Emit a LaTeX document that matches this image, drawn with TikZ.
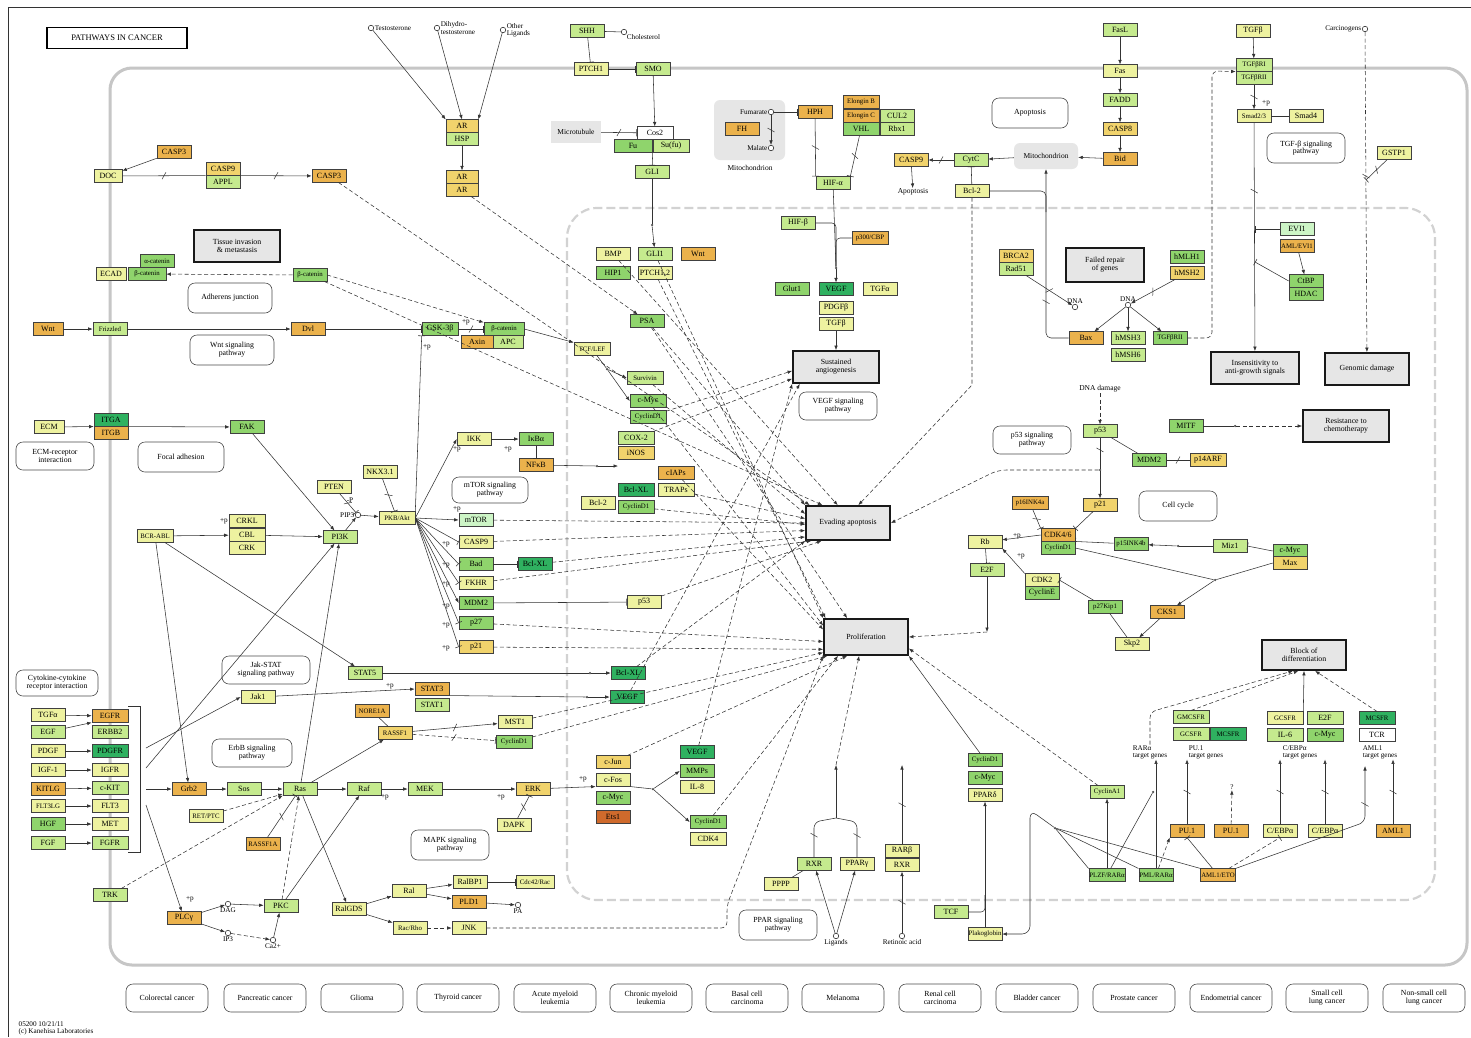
\documentclass[tikz,border=0pt]{standalone}
\usepackage{fontspec}
\setmainfont{Liberation Serif}
\usetikzlibrary{shapes,arrows,arrows.meta,decorations.markings,positioning}
\definecolor{gcy}{HTML}{EEF2A0}
\definecolor{gco}{HTML}{EBB24C}
\definecolor{gcyo}{HTML}{F1D36C}
\definecolor{gclg}{HTML}{C5EA8E}
\definecolor{gcg}{HTML}{8FD46C}
\definecolor{gcdg}{HTML}{2FB160}
\definecolor{gcbr}{HTML}{CF6A2C}
\definecolor{gcmint}{HTML}{CDF5C6}
\definecolor{cpt}{HTML}{E6E6E6}
\tikzstyle{gene} = [rectangle, draw=black!75, line width=0.6pt, minimum width=34pt, minimum height=12.5pt, inner sep=0.5pt, font=\fontsize{8}{8}\selectfont]
\tikzstyle{gy} = [gene, fill=gcy]
\tikzstyle{go} = [gene, fill=gco]
\tikzstyle{gyo} = [gene, fill=gcyo]
\tikzstyle{glg} = [gene, fill=gclg]
\tikzstyle{gg} = [gene, fill=gcg]
\tikzstyle{gdg} = [gene, fill=gcdg]
\tikzstyle{gbr} = [gene, fill=gcbr]
\tikzstyle{gmint} = [gene, fill=gcmint]
\tikzstyle{gw} = [gene, fill=white]
\tikzstyle{sm} = [font=\fontsize{6.8}{7}\selectfont]
\tikzstyle{pathbox} = [rectangle, rounded corners=7pt, draw=black!70, line width=0.6pt, align=center, minimum width=80pt, minimum height=28pt, inner sep=1pt, font=\fontsize{7.8}{7.8}\selectfont]
\tikzstyle{outcome} = [rectangle, draw=black!90, line width=1.8pt, fill=cpt, align=center, minimum width=84pt, minimum height=32pt, inner sep=1pt, font=\fontsize{7.8}{7.8}\selectfont]
\tikzstyle{cpd} = [circle, draw=black!80, fill=white, line width=0.6pt, inner sep=0pt, minimum size=5.5pt]
\tikzstyle{lbl} = [inner sep=0.5pt, align=center, font=\fontsize{7.5}{7.5}\selectfont]
\tikzstyle{tiny} = [inner sep=0.5pt, font=\fontsize{7.2}{7.2}\selectfont]
\tikzstyle{dot} = [circle, fill=black!70, inner sep=0pt, minimum size=2.5pt]
\tikzstyle{arrow} = [->, >={Latex[length=4.5pt,width=3.5pt]}, line width=0.55pt, black!80]
\tikzstyle{darrow} = [arrow, dash pattern=on 4pt off 2.5pt]
\tikzstyle{inhib} = [-{Bar[width=7pt]}, line width=0.55pt, black!80]
\tikzstyle{dinhib} = [inhib, dash pattern=on 4pt off 2.5pt]
\tikzstyle{link} = [-, line width=0.55pt, black!80]
\tikzstyle{dlink} = [link, dash pattern=on 4pt off 2.5pt]
\tikzset{brk/.style={postaction={decorate,decoration={markings,mark=at position #1 with {\draw[solid,-,black!80,line width=0.5pt] (-2pt,-3.5pt) -- (2pt,3.5pt);}}}}, brk/.default=0.5}

\begin{document}
\begin{tikzpicture}[x=1pt, y=-1pt]
\useasboundingbox (0,0) rectangle (1471,1037);
\fill[white] (0,0) rectangle (1471,1037);
\draw[black!80, line width=0.8pt] (1471,7) -- (8,7) -- (8,1037);
\draw[gray!45, line width=3pt, rounded corners=22pt] (110,68) rectangle (1467,965);
\draw[gray!35, line width=2.2pt, dash pattern=on 9pt off 4pt, rounded corners=30pt] (567,208) rectangle (1435,900);
\fill[cpt, rounded corners=6pt] (714,100) rectangle (785,160);

\node[rectangle, draw, line width=1.2pt, minimum width=140pt, minimum height=21pt, font=\fontsize{8.5}{9}\selectfont] (title) at (117,38) {PATHWAYS IN CANCER};

% left side
\node[go] (casp3a) at (174,152) {CASP3};
\node[gy, minimum width=28pt] (doc) at (108,176) {DOC};
\node[gyo] (casp9a) at (223,169) {CASP9};
\node[glg] (appl) at (223,182) {APPL};
\node[go] (casp3b) at (329,176) {CASP3};
\node[outcome, minimum width=86pt, minimum height=32pt] (tissue) at (237,246) {Tissue invasion\\\& metastasis};
\node[gg, sm] (acat) at (157,261) {α-catenin};
\node[gy, minimum width=30pt] (ecad) at (111,274) {ECAD};
\node[gg, sm, minimum width=38pt] (bcatb) at (147,274) {β-catenin};
\node[gg, sm] (bcata) at (310,275) {β-catenin};
\node[pathbox, minimum width=84pt, minimum height=30pt] (adh) at (230,298) {Adherens junction};
\node[go, minimum width=30pt] (wnt) at (48,329) {Wnt};
\node[glg, sm] (frz) at (110,329) {Frizzled};
\node[go] (dvl) at (308,329) {Dvl};
\node[pathbox, minimum width=84pt, minimum height=30pt] (wntp) at (232,350) {Wnt signaling\\pathway};
\node[gg, minimum width=36pt] (gsk) at (440,329) {GSK-3β};
\node[gg, sm, minimum width=40pt] (bcatc) at (504,329) {β-catenin};
\node[go, minimum width=32pt] (axin) at (477,342) {Axin};
\node[glg, minimum width=30pt] (apc) at (508,342) {APC};
\node[gy, sm, minimum width=36pt] (tcflef) at (592,349) {TCF/LEF};
\node[gy, minimum width=30pt] (ecm) at (49,427) {ECM};
\node[gdg] (itga) at (111,420) {ITGA};
\node[go] (itgb) at (111,433) {ITGB};
\node[gg] (fak) at (247,427) {FAK};
\node[pathbox, minimum width=78pt] (ecmp) at (55,456) {ECM-receptor\\interaction};
\node[pathbox, minimum width=86pt, minimum height=30pt] (focal) at (181,457) {Focal adhesion};
\node[gy] (pten) at (334,487) {PTEN};
\node[gy] (nkx) at (380,472) {NKX3.1};
\node[cpd, label={[tiny]left:PIP3}] (pip3) at (358,515) {};
\node[gy, sm, minimum width=36pt] (akt) at (397,518) {PKB/Akt};
\node[glg] (pi3k) at (340,537) {PI3K};
\node[gy, minimum width=36pt] (crkl) at (247,521) {CRKL};
\node[gy, minimum width=36pt] (cbl) at (247,535) {CBL};
\node[gy, minimum width=36pt] (crk) at (247,548) {CRK};
\node[gy, sm, minimum width=36pt] (bcr) at (155,536) {BCR-ABL};
\node[pathbox, minimum width=76pt, minimum height=26pt] (mtorp) at (490,490) {mTOR signaling\\pathway};
\node[gy] (ikk) at (474,439) {IKK};
\node[gg] (ikba) at (536,439) {IκBα};
\node[go] (nfkb) at (536,465) {NFκB};
\node[glg, sm, minimum width=36pt] (survivin) at (645,378) {Survivin};
\node[gg, minimum width=36pt] (cmyca) at (648,401) {c-Myc};
\node[gg, sm, minimum width=36pt] (cycd1a) at (648,417) {CyclinD1};
\node[glg, minimum width=36pt] (cox2) at (636,438) {COX-2};
\node[gyo, minimum width=36pt] (inos) at (636,453) {iNOS};
\node[go, minimum width=36pt] (ciaps) at (676,473) {cIAPs};
\node[gy, minimum width=36pt] (traps) at (676,490) {TRAPs};
\node[gdg, minimum width=36pt] (bclxla) at (636,490) {Bcl-XL};
\node[gy] (bcl2b) at (598,503) {Bcl-2};
\node[gg, sm, minimum width=36pt] (cycd1c) at (636,507) {CyclinD1};
\node[gmint] (mtor) at (476,520) {mTOR};
\node[gy] (casp9b) at (476,542) {CASP9};
\node[gg] (bad) at (476,564) {Bad};
\node[gdg] (bclxlb) at (535,564) {Bcl-XL};
\node[gy] (fkhr) at (476,583) {FKHR};
\node[gg] (mdm2a) at (476,603) {MDM2};
\node[gy] (p53a) at (644,602) {p53};
\node[gg] (p27) at (476,623) {p27};
\node[gyo] (p21a) at (476,647) {p21};
\node[glg] (stat5) at (365,673) {STAT5};
\node[gdg] (bclxlc) at (628,673) {Bcl-XL};
\node[pathbox, minimum width=88pt] (jakp) at (266,670) {Jak-STAT\\signaling pathway};
\node[go] (stat3) at (432,689) {STAT3};
\node[glg] (stat1) at (432,705) {STAT1};
\node[gdg] (vegfb) at (627,697) {VEGF};
\node[gy] (jak1) at (258,697) {Jak1};
\node[go, sm] (nore1a) at (372,711) {NORE1A};
\node[gyo, sm] (rassf1) at (395,733) {RASSF1};
\node[gy] (mst1) at (515,722) {MST1};
\node[gg, sm, minimum width=36pt] (cycd1b) at (514,742) {CyclinD1};
\node[pathbox] (erbbp) at (252,753) {ErbB signaling\\pathway};
\node[pathbox, minimum width=82pt, minimum height=26pt] (cytop) at (57,683) {Cytokine-cytokine\\receptor interaction};
\node[gy] (tgfa1) at (48,715) {TGFα};
\node[glg] (egf) at (48,732) {EGF};
\node[gy] (pdgf) at (48,751) {PDGF};
\node[gy] (igf1) at (48,770) {IGF-1};
\node[go] (kitlg) at (48,789) {KITLG};
\node[gy, sm] (flt3lg) at (48,806) {FLT3LG};
\node[gg] (hgf) at (48,824) {HGF};
\node[glg] (fgf) at (48,843) {FGF};
\node[go, minimum width=36pt] (egfr) at (110,716) {EGFR};
\node[glg, minimum width=36pt] (erbb2) at (110,732) {ERBB2};
\node[gdg, minimum width=36pt] (pdgfr) at (110,751) {PDGFR};
\node[gy, minimum width=36pt] (igfr) at (110,770) {IGFR};
\node[glg, minimum width=36pt] (ckit) at (110,788) {c-KIT};
\node[gy, minimum width=36pt] (flt3) at (110,806) {FLT3};
\node[gy, minimum width=36pt] (met) at (110,824) {MET};
\node[glg, minimum width=36pt] (fgfr) at (110,843) {FGFR};
\draw[link] (128,706) -| (140,852) -- (128,852);
\node[go] (grb2) at (189,789) {Grb2};
\node[glg] (sos) at (244,789) {Sos};
\node[glg] (ras) at (300,789) {Ras};
\node[gy, sm] (retptc) at (206,816) {RET/PTC};
\node[go, sm] (rassf1a) at (263,844) {RASSF1A};
\node[glg] (raf) at (364,789) {Raf};
\node[glg] (mek) at (425,789) {MEK};
\node[gyo] (erk) at (533,789) {ERK};
\node[gy] (dapk) at (514,825) {DAPK};
\node[gyo] (cjun) at (613,762) {c-Jun};
\node[gy] (cfos) at (613,780) {c-Fos};
\node[gg] (cmycc) at (613,798) {c-Myc};
\node[gbr] (ets1) at (613,817) {Ets1};
\node[gdg] (vegfc) at (697,752) {VEGF};
\node[gg] (mmps) at (697,771) {MMPs};
\node[gy] (il8) at (697,787) {IL-8};
\node[gg, sm, minimum width=36pt] (cycd1d) at (708,822) {CyclinD1};
\node[gy, minimum width=36pt] (cdk4) at (708,839) {CDK4};
\node[pathbox, minimum width=78pt, minimum height=30pt] (mapkp) at (450,845) {MAPK signaling\\pathway};
\node[glg] (trk) at (110,895) {TRK};
\node[go] (plcg) at (184,918) {PLCγ};
\node[cpd, label={[tiny]below:DAG}] (dag) at (228,904) {};
\node[cpd, label={[tiny]below:IP3}] (ip3) at (228,933) {};
\node[glg] (pkc) at (281,906) {PKC};
\node[cpd, label={[tiny]below:Ca2+}] (ca2) at (273,940) {};
\node[gy] (ralgds) at (349,909) {RalGDS};
\node[gy] (ral) at (409,891) {Ral};
\node[gy] (ralbp1) at (470,882) {RalBP1};
\node[gy, sm, minimum width=38pt] (cdc42) at (535,882) {Cdc42/Rac};
\node[go] (pld1) at (469,902) {PLD1};
\node[cpd, label={[tiny]below:PA}] (pa) at (518,905) {};
\node[gy, sm] (racrho) at (410,928) {Rac/Rho};
\node[gy] (jnk) at (469,928) {JNK};

% top middle
\node[cpd, label={[tiny]right:Testosterone}] (testo) at (371,28) {};
\node[cpd, label={[tiny, align=left]right:Dihydro-\\testosterone}] (dht) at (437,28) {};
\node[cpd, label={[tiny, align=left]right:Other\\Ligands}] (othlig) at (503,30) {};
\node[gyo, minimum width=32pt] (ar1) at (462,126) {AR};
\node[glg, minimum width=32pt] (hsp) at (462,139) {HSP};
\node[gyo, minimum width=32pt] (ar2) at (462,177) {AR};
\node[gyo, minimum width=32pt] (ar3) at (462,190) {AR};
\node[glg] (shh) at (587,31) {SHH};
\node[cpd, label={[tiny]below right:Cholesterol}] (chol) at (624,32) {};
\node[gy] (ptch1) at (591,69) {PTCH1};
\node[glg] (smo) at (653,69) {SMO};
\node[fill=cpt, minimum width=50pt, minimum height=22pt, font=\fontsize{7.5}{7.5}\selectfont] (micro) at (576,132) {Microtubule};
\node[gw, minimum width=36pt] (cos2) at (655,133) {Cos2};
\node[gg, minimum width=38pt] (fu) at (633,146) {Fu};
\node[glg, minimum width=36pt] (sufu) at (671,146) {Su(fu)};
\node[glg] (gli) at (652,172) {GLI};
\node[gy] (bmp) at (613,254) {BMP};
\node[glg] (gli1) at (655,254) {GLI1};
\node[go] (wnt2) at (698,254) {Wnt};
\node[gg] (hip1) at (613,273) {HIP1};
\node[gy] (ptch12) at (655,273) {PTCH1,2};
\node[gg] (psa) at (647,321) {PSA};
\node[cpd, label={[tiny]left:Fumarate}] (fum) at (771,112) {};
\node[go] (fh) at (742,129) {FH};
\node[cpd, label={[tiny]left:Malate}] (mal) at (771,148) {};
\node[lbl] (mitolbl) at (750,168) {Mitochondrion};
\node[go] (hph) at (815,112) {HPH};
\node[go, sm, minimum width=36pt] (elonb) at (861,102) {Elongin B};
\node[go, sm, minimum width=36pt] (elonc) at (861,116) {Elongin C};
\node[glg] (cul2) at (897,116) {CUL2};
\node[gg, minimum width=36pt] (vhl) at (861,129) {VHL};
\node[glg] (rbx1) at (897,129) {Rbx1};
\node[glg] (hifa) at (833,183) {HIF-α};
\node[glg] (hifb) at (798,223) {HIF-β};
\node[go, sm, minimum width=36pt] (p300) at (870,238) {p300/CBP};
\node[gg] (glut1) at (792,289) {Glut1};
\node[gdg] (vegfa) at (836,289) {VEGF};
\node[gy] (tgfa2) at (880,289) {TGFα};
\node[gy] (pdgfb) at (836,308) {PDGFβ};
\node[gy] (tgfb1) at (836,324) {TGFβ};
\node[outcome, minimum width=86pt] (angio) at (836,367) {Sustained\\angiogenesis};
\node[pathbox, minimum width=78pt] (vegfp) at (838,406) {VEGF signaling\\pathway};
\node[pathbox, minimum width=76pt, minimum height=30pt] (apop) at (1030,113) {Apoptosis};
\node[gyo] (casp9c) at (911,160) {CASP9};
\node[lbl] (apolbl) at (913,192) {Apoptosis};
\node[glg] (cytc) at (971,160) {CytC};
\node[gy] (bcl2a) at (972,191) {Bcl-2};
\node[fill=cpt, rounded corners=6pt, minimum width=64pt, minimum height=26pt, font=\fontsize{7.5}{7.5}\selectfont] (mito2) at (1046,156) {Mitochondrion};
\node[glg] (fasl) at (1120,30) {FasL};
\node[gy] (fas) at (1120,71) {Fas};
\node[glg] (fadd) at (1120,100) {FADD};
\node[gyo] (casp8) at (1120,129) {CASP8};
\node[go] (bid) at (1120,159) {Bid};
\node[gy] (tgfb2) at (1253,31) {TGFβ};
\node[glg, sm, minimum width=36pt] (tgfbr1) at (1254,65) {TGFβRI};
\node[glg, sm, minimum width=36pt] (tgfbr2) at (1254,78) {TGFβRII};
\node[gy, sm] (smad23) at (1254,116) {Smad2/3};
\node[gy] (smad4) at (1306,116) {Smad4};
\node[pathbox, minimum width=78pt, minimum height=30pt] (tgfbp) at (1306,148) {TGF-β signaling\\pathway};
\node[cpd, label={[tiny]left:Carcinogens}] (carc) at (1365,29) {};
\node[gy] (gstp1) at (1394,153) {GSTP1};
\node[gmint] (evi1) at (1297,229) {EVI1};
\node[go, sm] (amlevi1) at (1297,246) {AML/EVI1};
\node[gg] (ctbp) at (1306,281) {CtBP};
\node[gg] (hdac) at (1306,294) {HDAC};
\node[gyo] (brca2) at (1016,256) {BRCA2};
\node[glg] (rad51) at (1016,269) {Rad51};
\node[outcome, minimum width=78pt, minimum height=34pt] (failed) at (1105,265) {Failed repair\\of genes};
\node[gg] (hmlh1) at (1187,257) {hMLH1};
\node[gyo] (hmsh2) at (1187,273) {hMSH2};
\node[cpd, label={[tiny]above:DNA}] (dna1) at (1075,307) {};
\node[cpd, label={[tiny]above:DNA}] (dna2) at (1128,305) {};
\node[go] (bax) at (1086,338) {Bax};
\node[glg] (hmsh3) at (1128,338) {hMSH3};
\node[gg, sm] (tgfbr2b) at (1170,338) {TGFβRII};
\node[glg] (hmsh6) at (1128,355) {hMSH6};
\node[outcome, minimum width=88pt] (insens) at (1255,368) {Insensitivity to\\anti-growth signals};
\node[outcome] (genomic) at (1367,369) {Genomic damage};
\node[lbl] (dnadmg) at (1100,389) {DNA damage};
\node[glg] (p53b) at (1100,431) {p53};
\node[gg] (mitf) at (1186,426) {MITF};
\node[outcome, minimum width=86pt] (resist) at (1346,426) {Resistance to\\chemotherapy};
\node[gg] (mdm2b) at (1149,460) {MDM2};
\node[gyo, minimum width=36pt] (p14arf) at (1208,460) {p14ARF};
\node[pathbox, minimum width=78pt] (p53p) at (1032,440) {p53 signaling\\pathway};
\node[pathbox, minimum width=78pt, minimum height=30pt] (cellc) at (1178,506) {Cell cycle};
\node[gyo] (p21b) at (1100,505) {p21};
\node[go, sm, minimum width=36pt] (p16) at (1030,503) {p16INK4a};
\node[go] (cdk46) at (1058,535) {CDK4/6};
\node[gg, sm] (cycd1e) at (1058,548) {CyclinD1};
\node[gy] (rb) at (985,542) {Rb};
\node[glg] (e2fa) at (987,570) {E2F};
\node[gy] (cdk2) at (1042,580) {CDK2};
\node[gg] (cyce) at (1042,593) {CyclinE};
\node[gg, sm] (p15) at (1131,544) {p15INK4b};
\node[glg] (miz1) at (1230,546) {Miz1};
\node[gg] (cmycb) at (1290,551) {c-Myc};
\node[gyo] (maxn) at (1290,563) {Max};
\node[gg, sm] (p27kip) at (1105,607) {p27Kip1};
\node[go] (cks1) at (1167,612) {CKS1};
\node[gy] (skp2) at (1132,644) {Skp2};
\node[outcome, minimum height=34pt] (ea) at (848,523) {Evading apoptosis};
\node[outcome, minimum height=36pt] (pr) at (866,637) {Proliferation};
\node[outcome, minimum height=30pt] (block) at (1304,655) {Block of\\differentiation};
\node[glg, sm, minimum width=36pt] (gmcsfr) at (1191,717) {GMCSFR};
\node[glg, sm, minimum width=36pt] (gcsfr1) at (1191,734) {GCSFR};
\node[gdg, sm, minimum width=36pt] (mcsfr1) at (1228,734) {MCSFR};
\node[gy, sm, minimum width=36pt] (gcsfr2) at (1285,718) {GCSFR};
\node[glg, minimum width=36pt] (e2fb) at (1325,718) {E2F};
\node[glg, minimum width=36pt] (il6) at (1285,735) {IL-6};
\node[gg, minimum width=36pt] (cmycd) at (1325,735) {c-Myc};
\node[gdg, sm, minimum width=36pt] (mcsfr2) at (1377,718) {MCSFR};
\node[gw, minimum width=36pt] (tcr) at (1377,735) {TCR};
\node[tiny, align=left] (raratg) at (1150,752) {RARα\\target genes};
\node[tiny, align=left] (pu1tg) at (1206,752) {PU.1\\target genes};
\node[tiny, align=left] (cebptg) at (1300,752) {C/EBPα\\target genes};
\node[tiny, align=left] (aml1tg) at (1380,752) {AML1\\target genes};
\node[go] (pu1a) at (1187,831) {PU.1};
\node[go] (pu1b) at (1231,831) {PU.1};
\node[tiny] (qm) at (1232,787) {?};
\node[gy] (cebpa1) at (1280,831) {C/EBPα};
\node[gy] (cebpa2) at (1325,831) {C/EBPα};
\node[go] (aml1) at (1393,831) {AML1};
\node[gg, sm] (plzf) at (1107,875) {PLZF/RARα};
\node[gg, sm] (pmlrara) at (1156,875) {PML/RARα};
\node[go, sm] (aml1eto) at (1218,875) {AML1/ETO};
\node[glg, sm] (cyca1) at (1107,792) {CyclinA1};
\node[gg, sm] (cycd1f) at (985,760) {CyclinD1};
\node[gg] (cmyce) at (985,778) {c-Myc};
\node[gy] (ppard) at (985,795) {PPARδ};
\node[glg] (tcf2) at (951,912) {TCF};
\node[gy, sm] (plakog) at (985,934) {Plakoglobin};
\node[glg] (rxr1) at (814,864) {RXR};
\node[gy] (pparg) at (857,864) {PPARγ};
\node[gy] (pppp) at (781,884) {PPPP};
\node[gy] (rarb) at (902,851) {RARβ};
\node[gy] (rxr2) at (902,865) {RXR};
\node[cpd, label={[tiny]below:Ligands}] (ligands) at (836,936) {};
\node[cpd, label={[tiny]below:Retinoic acid}] (retacid) at (902,936) {};
\node[pathbox, minimum width=78pt, minimum height=30pt] (pparp) at (778,925) {PPAR signaling\\pathway};

% small +p labels
\foreach \x/\y/\t [count=\i] in {466/322/+p, 427/347/+p, 224/521/+p, 350/500/-P, 457/509/+p, 457/449/+p, 508/449/+p, 446/544/+p, 446/565/+p, 446/584/+p, 446/606/+p, 446/625/+p, 446/648/+p, 390/686/+p, 385/797/+p, 501/797/+p, 583/779/+p, 190/899/+p, 1017/536/+p, 1021/556/+p, 1266/103/+p}
  \node[tiny] (plus\i) at (\x,\y) {\t};

% connectors, left part
\draw[arrow] (casp3a) -- (doc);
\draw[link, brk] (doc) -- (casp9a.south west);
\draw[arrow, brk] (casp9a.south east) -- (casp3b);
\draw[darrow] (bcata) -- (bcatb);
\draw[arrow] (wnt) -- (frz);
\draw[arrow] (frz) -- (dvl);
\draw[inhib] (dvl) -- (gsk);
\draw[inhib, brk] (gsk) -- (bcatc);
\draw[arrow] (bcatc.east) -- (tcflef.north west);
\draw[darrow] (bcata.east) -- (bcatc.north west);
\node[dot] (dtcf) at (607,369) {};
\draw[link] (tcflef) -- (dtcf);
\draw[arrow] (dtcf) -- (survivin.west);
\draw[arrow] (dtcf) -- (cmyca.west);
\draw[arrow] (ecm) -- (itga.south west);
\draw[arrow] (itga.south east) -- (fak);
\draw[arrow] (fak) -- (pi3k);
\draw[arrow] (bcr) -- (cbl);
\draw[arrow] (cbl) -- (pi3k);
\draw[arrow] (bcr) -- (stat5);
\draw[arrow] (bcr) -- (grb2);
\draw[arrow] (pi3k) -- (pip3);
\draw[arrow] (pip3) -- (akt);
\draw[inhib, brk] (pten) -- (pip3);
\draw[inhib, brk] (nkx) -- (akt);
\draw[inhib] (akt.north east) -- (gsk.south west);
\foreach \t in {ikk, mtor, mdm2a} \draw[arrow] (akt.east) -- (\t.west);
\foreach \t in {casp9b, bad, fkhr, p27, p21a} \draw[inhib] (akt.east) -- (\t.west);
\draw[arrow] (ikk) -- (ikba);
\draw[inhib] (ikba) -- (nfkb);
\node[dot] (dnf) at (597,466) {};
\coordinate (nfend) at (618,466);
\draw[link] (nfkb) -- (dnf);
\draw[arrow] (dnf) -- (nfend);
\draw[inhib] (bad) -- (bclxlb);
\draw[inhib] (mdm2a) -- (p53a);
\node[dot] (dst5) at (590,673) {};
\draw[link] (stat5) -- (dst5);
\draw[arrow] (dst5) -- (bclxlc);
\draw[arrow] (jak1) -- (stat3.west);
\node[dot] (dst3) at (587,697) {};
\draw[link] (stat3.south east) -- (dst3);
\draw[arrow] (dst3) -- (vegfb);
\draw[link] (nore1a) -- (rassf1);
\draw[arrow, brk] (rassf1) -- (mst1);
\draw[dinhib, brk] (rassf1) -- (cycd1b);
\foreach \a/\b in {tgfa1/egfr, pdgf/pdgfr, igf1/igfr, kitlg/ckit, flt3lg/flt3, hgf/met, fgf/fgfr} \draw[arrow] (\a) -- (\b);
\draw[arrow] (egf) -- (egfr.south west);
\coordinate (rtkj) at (146,789);
\coordinate (rtka) at (146,748);
\coordinate (rtkb) at (146,768);
\coordinate (rtkc) at (146,805);
\draw[arrow] (rtkj) -- (grb2);
\draw[arrow] (rtka) -- (jak1.west);
\draw[arrow] (rtkb) -- (pi3k);
\draw[arrow] (rtkc) -- (plcg);
\draw[arrow] (grb2) -- (sos);
\draw[arrow] (sos) -- (ras);
\draw[darrow] (retptc) -- (ras);
\draw[darrow] (trk) -- (ras.south west);
\draw[inhib, brk] (rassf1a) -- (ras);
\draw[arrow] (ras) -- (pi3k);
\draw[arrow] (ras) -- (raf);
\draw[arrow] (ras) -- (ralgds);
\draw[arrow] (ras) -- (rassf1);
\draw[arrow] (raf) -- (mek);
\draw[arrow] (mek) -- (erk);
\draw[inhib, brk] (dapk) -- (erk);
\draw[arrow] (erk) -- (cfos.south west);
\node[dot] (dap1) at (653,789) {};
\draw[link] (cfos.south east) -- (dap1);
\draw[arrow] (dap1) -- (mmps.west);
\draw[arrow] (dap1) -- (cycd1d.west);
\draw[arrow] (pkc) -- (raf);
\draw[darrow] (pkc) -- (ras);
\draw[arrow] (plcg) -- (dag);
\draw[arrow] (dag) -- (pkc);
\draw[arrow] (plcg) -- (ip3);
\draw[darrow] (ip3) -- (ca2);
\draw[arrow] (ca2) -- (pkc);
\draw[arrow] (ralgds) -- (ral);
\draw[arrow] (ral) -- (ralbp1);
\draw[arrow] (ral) -- (pld1);
\draw[inhib] (ralbp1) -- (cdc42);
\draw[arrow] (pld1) -- (pa);
\draw[arrow] (ralgds) -- (racrho);
\draw[darrow] (racrho) -- (jnk);
\draw[darrow, rounded corners=6pt] (jnk) -- (727,928) -- (727,905) -- (pr.south west);

% connectors, top middle
\draw[arrow] (testo) -- (ar1.north west);
\draw[arrow] (dht) -- (ar1.north);
\draw[arrow] (othlig) -- (ar1.north east);
\draw[arrow] (hsp) -- (ar2);
\draw[darrow] (ar3) -- (psa);
\draw[inhib] (shh) -- (ptch1);
\draw[link] (shh) -- (chol);
\draw[inhib] (ptch1) -- (smo);
\draw[arrow] (smo) -- (cos2);
\draw[inhib, brk] (micro) -- (cos2);
\draw[inhib] (sufu.south west) -- (gli);
\node[dot] (dgli) at (652,225) {};
\draw[link] (gli) -- (dgli);
\draw[arrow] (dgli) -- (gli1);
\draw[inhib] (fum) -- (hph);
\draw[arrow, brk] (fum) -- (mal);
\draw[inhib, brk] (hph) -- (hifa.north west);
\draw[inhib, brk] (vhl) -- (hifa.north east);
\node[dot] (dhif) at (836,268) {};
\draw[link] (hifa) -- (dhif);
\draw[arrow] (dhif) -- (vegfa);
\draw[link, rounded corners=4pt] (hifb) -| (dhif);
\draw[link, rounded corners=4pt] (p300) -| (dhif);
\draw[arrow] (tgfb1) -- (angio);
\draw[arrow, brk] (cytc) -- (casp9c);
\draw[arrow] (casp9c) -- (apolbl);
\draw[arrow] (mito2) -- (cytc);
\draw[inhib] (bcl2a) -- (cytc);
\draw[arrow] (bid) -- (mito2);
\draw[arrow, rounded corners=5pt, brk=0.3] (bax.west) -| (mito2.south);
\coordinate (bxj) at (1046,212);
\draw[inhib, rounded corners=5pt] (bxj) |- (bcl2a.east);
\draw[darrow] (bcl2a) -- (972,385) -- (ea.60);
\draw[arrow] (fasl) -- (fas);
\draw[arrow] (fas) -- (fadd);
\draw[arrow] (fadd) -- (casp8);
\draw[arrow] (casp8) -- (bid);
\draw[arrow] (tgfb2) -- (tgfbr1);
\draw[arrow, brk] (tgfbr2) -- (smad23);
\draw[link] (smad23) -- (smad4);
\draw[darrow, rounded corners=6pt] (tgfbr2b.east) -- (1212,338) -- (1212,71) -- (tgfbr1.south west);
\draw[arrow, brk=0.3] (smad23) -- (insens);
\coordinate (smadl1) at (1255,229);
\coordinate (smadl2) at (1255,262);
\draw[inhib] (evi1) -- (smadl1);
\draw[inhib] (ctbp.west) -- (smadl2);
\draw[arrow] (amlevi1) -- (ctbp);
\draw[darrow, brk=0.45] (carc) -- (genomic);
\coordinate (carcl) at (1366,180);
\draw[inhib, brk] (gstp1) -- (carcl);
\draw[arrow, brk] (rad51) -- (dna1);
\draw[arrow, brk] (hmsh2) -- (dna2);
\draw[arrow] (dna2) -- (bax);
\draw[arrow] (dna2) -- (hmsh3);
\draw[arrow] (dna2) -- (tgfbr2b);

% connectors, right part
\draw[darrow] (dnadmg) -- (p53b);
\node[dot] (dp53) at (1100,470) {};
\draw[link, brk=0.4] (p53b) -- (dp53);
\draw[arrow] (dp53) -- (p21b);
\draw[link] (p53b) -- (mdm2b);
\draw[inhib, brk] (p14arf) -- (mdm2b);
\node[dot] (dmitf) at (1235,426) {};
\draw[link] (mitf) -- (dmitf);
\draw[darrow] (dmitf) -- (resist);
\draw[darrow, rounded corners=8pt] (dp53) -- (998,470) -- (ea.east);
\draw[inhib] (p21b) -- (cdk46.north east);
\draw[inhib, brk] (p16) -- (cdk46.north west);
\draw[arrow] (cdk46.west) -- (rb);
\draw[arrow] (cdk2.north west) -- (rb.south east);
\draw[inhib] (rb) -- (e2fa);
\coordinate (e2fend) at (987,632);
\draw[arrow] (e2fa) -- (e2fend);
\draw[darrow] (e2fend) -- (pr.east);
\draw[inhib] (p15) -- (cycd1e.north east);
\node[dot] (dmiz) at (1178,546) {};
\draw[link] (miz1) -- (dmiz);
\draw[arrow] (dmiz) -- (p15);
\draw[inhib] (cmycb.west) -- (miz1.east);
\node[dot] (dmyc) at (1215,580) {};
\draw[link] (maxn.west) -- (dmyc);
\draw[arrow] (dmyc) -- (cks1);
\draw[link] (dmyc) -- (cycd1e.east);
\draw[arrow] (cks1) -- (skp2);
\draw[link] (p27kip) -- (skp2);
\draw[inhib] (p27kip) -- (cdk2.east);
\draw[arrow, brk] (pu1a) -- (pu1a |- pu1tg.south);
\draw[darrow] (pu1b) -- (qm);
\draw[arrow, brk] (cebpa1) -- (cebpa1 |- cebptg.south);
\draw[arrow, brk] (cebpa2) -- (cebpa2 |- cebptg.south);
\draw[arrow, brk] (aml1) -- (aml1 |- aml1tg.south);
\coordinate (aml1tgw) at (1365,766);
\draw[arrow, rounded corners=6pt, brk=0.8] (aml1eto.north east) -- (1365,822) -- (aml1tgw);
\node[dot] (drar) at (1153,792) {};
\draw[arrow] (pmlrara) -- (pmlrara |- raratg.south);
\draw[link] (plzf) -- (drar);
\draw[arrow] (plzf) -- (cyca1);
\draw[inhib] (aml1eto) -- (pu1a.south);
\draw[darrow] (pmlrara) -- (pu1a.south west);
\draw[dinhib] (aml1eto) -- (cebpa1.south);
\node[dot] (dloop) at (1055,828) {};
\foreach \t in {plzf, pmlrara, aml1eto} \draw[link] (dloop) -- (\t.north west);
\draw[arrow, rounded corners=8pt] (dloop) -- (1030,810) -- (1030,934) -- (plakog.east);
\draw[arrow] (plakog) -- (ppard);
\draw[link, rounded corners=4pt] (tcf2.east) -| (985,895);
\draw[arrow] (cycd1f) -- (pr.south east);
\draw[darrow] (cyca1) -- (pr.345);
\draw[darrow, rounded corners=6pt] (raratg.north) -- (1150,712) -- (block.235);
\draw[darrow] (gmcsfr.north) -- (block.250);
\draw[arrow] (gcsfr2.north east) -- (block.south);
\draw[darrow] (mcsfr2.north) -- (block.305);
\draw[arrow] (ligands) -- (rxr1);
\draw[arrow] (ligands) -- (pparg);
\draw[link] (pppp) -- (rxr1);
\coordinate (rxjoin) at (836,818);
\draw[link, rounded corners=6pt, brk=0.4] (rxr1.north) -- (814,822) -- (rxjoin);
\draw[link, rounded corners=6pt, brk=0.4] (pparg.north) -- (857,822) -- (rxjoin);
\coordinate (rxend) at (836,765);
\draw[arrow] (rxjoin) -- (rxend);
\draw[darrow] (rxend) -- (pr.250);
\coordinate (rarend) at (902,765);
\draw[arrow, brk] (retacid) -- (rxr2);
\draw[arrow, brk] (rarb) -- (rarend);

% indirect effects into the outcome boxes
\foreach \s/\t in {mtor/ea.west, casp9b/ea.190, bclxlb/ea.198, fkhr/ea.206, p53a/ea.214, bclxlc/ea.south west, survivin/ea.168, traps/ea.174, cycd1c/ea.182, casp3b/ea.155, psa/ea.north west, bcata/ea.145, bmp/ea.120}
  \draw[darrow] (\s) -- (\t);
\foreach \s/\t in {p27/pr.186, p21a/pr.196, cycd1b/pr.206, mst1/pr.200, cmyca/pr.165, ptch12/pr.155, gli1/pr.north west, psa/pr.135, cycd1d/pr.214, cjun/pr.225, ciaps/pr.170}
  \draw[darrow] (\s) -- (\t);
\foreach \s/\t in {cox2/angio.195, vegfb/angio.205, vegfc/angio.south west, cycd1a/angio.185}
  \draw[darrow] (\s) -- (\t);

% disease boxes
\foreach \x/\t [count=\i] in {167/Colorectal cancer, 265/Pancreatic cancer, 362/Glioma, 458/Thyroid cancer, 555/Acute myeloid\\leukemia, 651/Chronic myeloid\\leukemia, 747/Basal cell\\carcinoma, 843/Melanoma, 940/Renal cell\\carcinoma, 1037/Bladder cancer, 1134/Prostate cancer, 1231/Endometrial cancer, 1327/Small cell\\lung cancer, 1424/Non-small cell\\lung cancer}
  \node[pathbox, minimum width=82pt, minimum height=28pt] (dis\i) at (\x,998) {\t};
\node[tiny, anchor=west, align=left] (foot) at (18,1028) {05200 10/21/11\\(c) Kanehisa Laboratories};
\end{tikzpicture}
\end{document}
